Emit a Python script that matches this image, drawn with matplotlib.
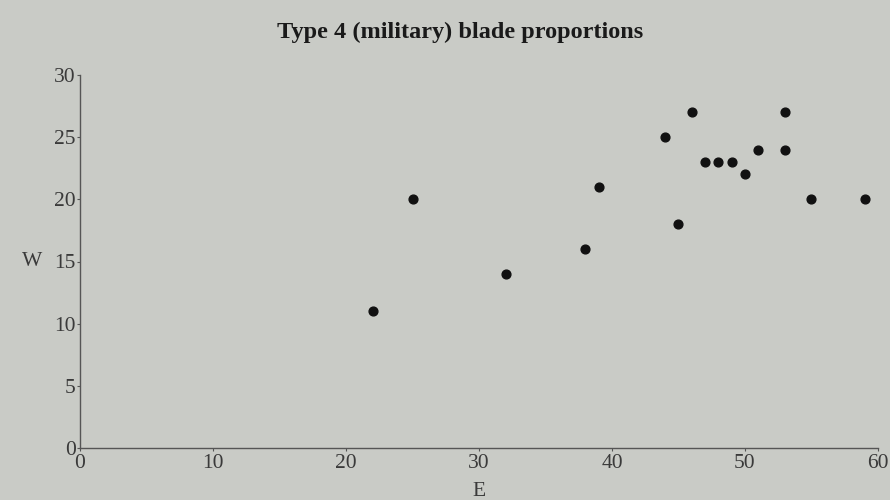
import matplotlib.pyplot as plt

# Длина (E) и ширина (W) лезвий
E = [22, 25, 32, 38, 39, 44, 45, 46, 47, 48, 49, 50, 51, 53, 53, 55, 59]
W = [11, 20, 14, 16, 21, 25, 18, 27, 23, 23, 23, 22, 24, 27, 24, 20, 20]

x_ticks = [0, 10, 20, 30, 40, 50, 60]
y_ticks = [0, 5, 10, 15, 20, 25, 30]

bg = '#c9cbc6'
ink = '#3a3a3a'

plt.rcParams['font.family'] = ['Liberation Serif', 'DejaVu Serif']

fig = plt.figure(figsize=(8.9, 5), dpi=100, facecolor=bg)
ax = fig.add_axes([0.0899, 0.104, 0.8966, 0.746], facecolor=bg)

ax.scatter(E, W, s=40, color='#111111', zorder=3)

ax.set_xlim(0, 60)
ax.set_ylim(0, 30)
ax.set_xticks(x_ticks)
ax.set_yticks(y_ticks)

for side in ['top', 'right']:
    ax.spines[side].set_visible(False)
for side in ['left', 'bottom']:
    ax.spines[side].set_color('#555555')
    ax.spines[side].set_linewidth(1.0)

ax.tick_params(axis='both', colors='#555555', labelcolor=ink, labelsize=15.5,
               length=2, width=0.8)
ax.tick_params(axis='y', pad=1)
ax.tick_params(axis='x', pad=2)

fig.text(460 / 890, 1 - 32 / 500, 'Type 4 (military) blade proportions',
         fontsize=17.5, fontweight='bold', color='#1a1a1a',
         ha='center', va='center')
ax.set_xlabel('E', fontsize=15.5, color=ink, labelpad=7)
ax.set_ylabel('W', fontsize=15.5, color=ink, rotation=0, labelpad=16, va='center')

fig.savefig('out.png', dpi=100, facecolor=bg)
